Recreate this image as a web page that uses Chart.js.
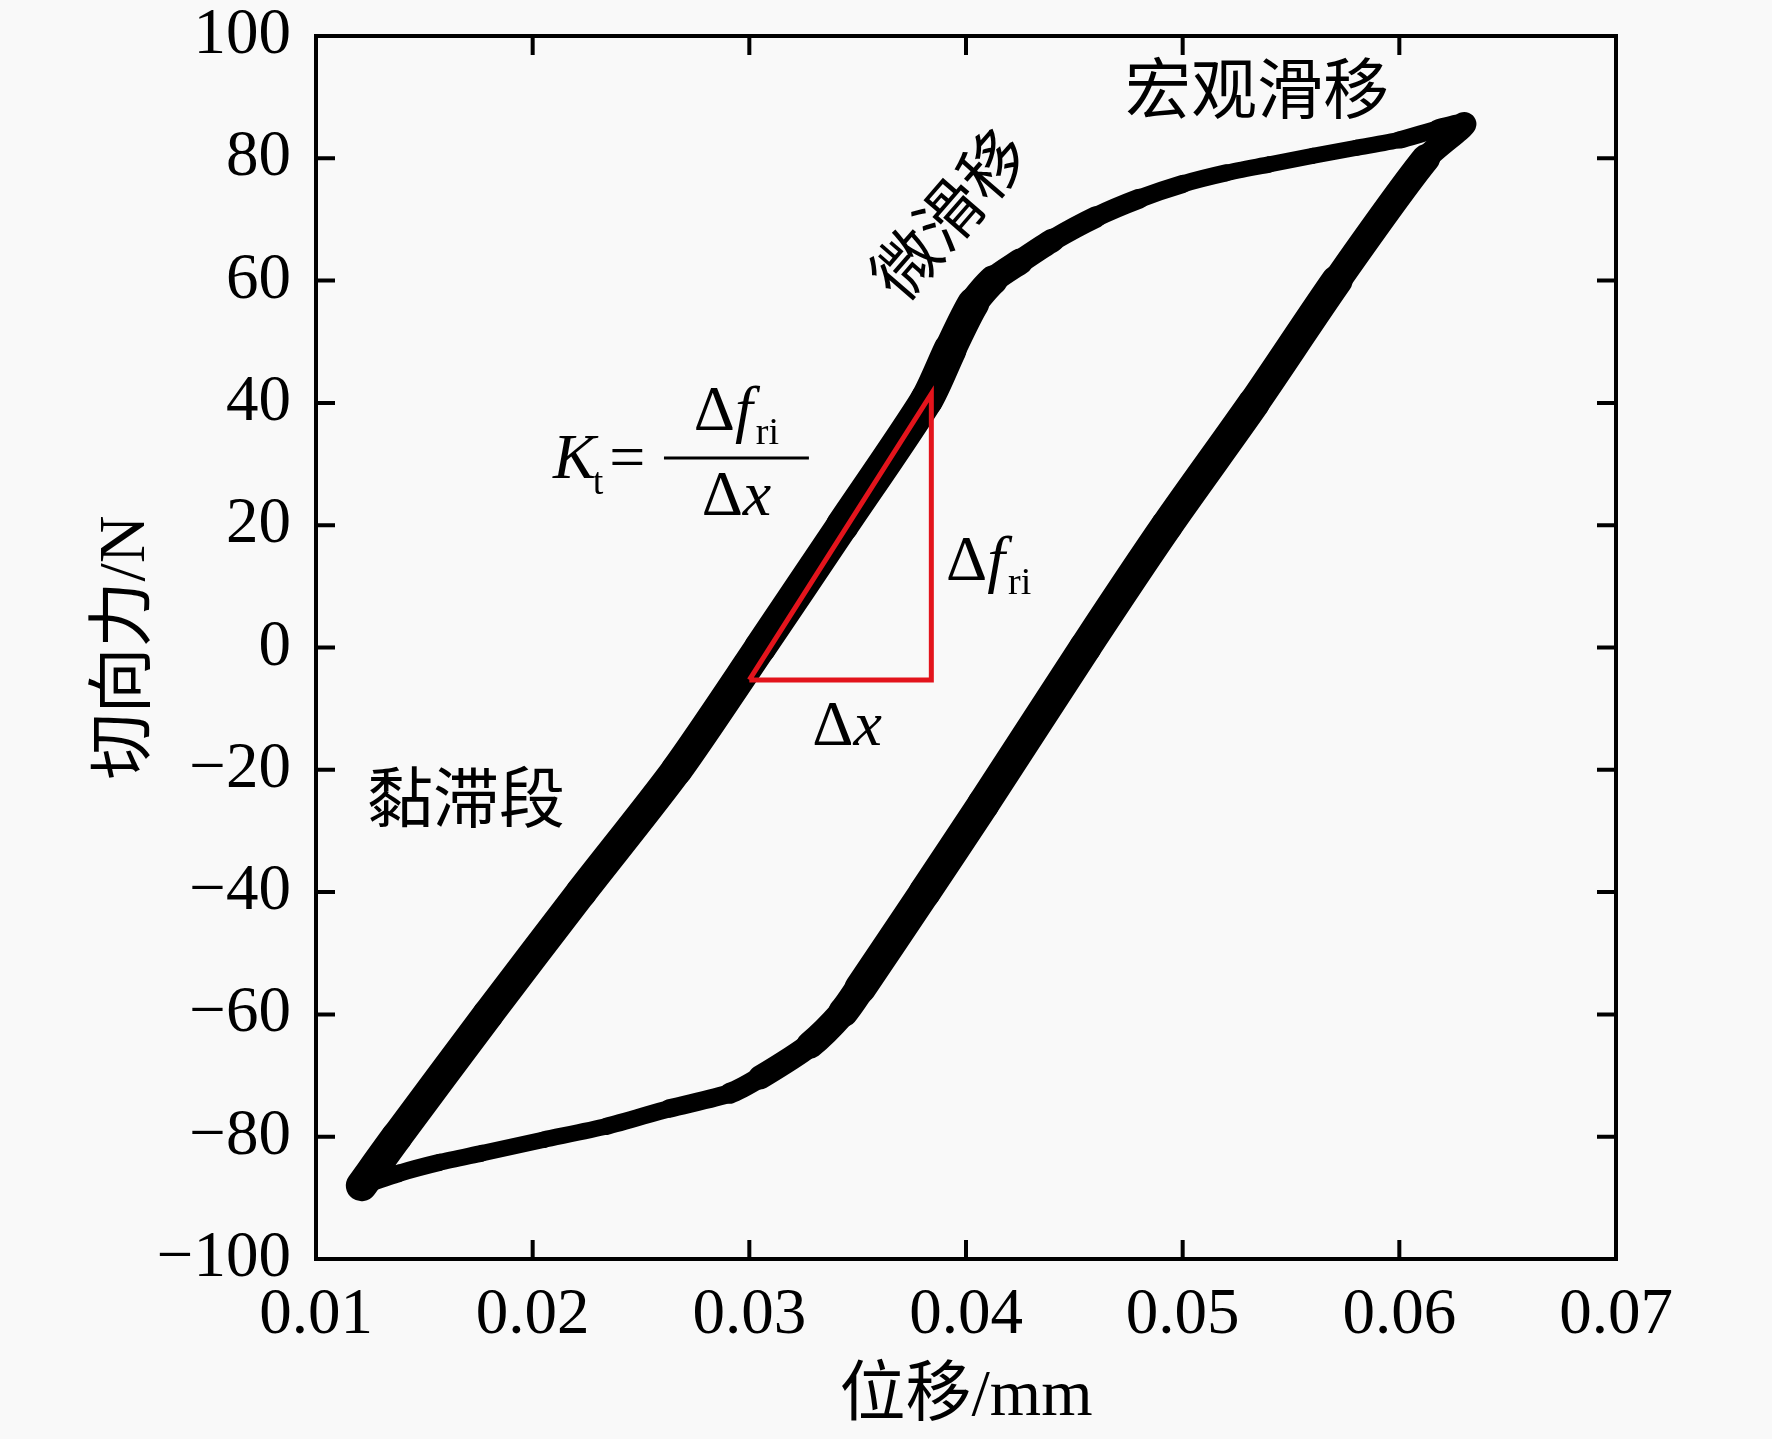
<!DOCTYPE html>
<html><head><meta charset="utf-8">
<script src="https://cdn.jsdelivr.net/npm/chart.js@4.4.1/dist/chart.umd.min.js"></script>
<style>
html,body{margin:0;padding:0;background:#f9f9f9;}
#wrap{width:1772px;height:1439px;position:relative;}
</style></head><body>
<div id="wrap"><canvas id="c" width="1772" height="1439"></canvas></div>
<script>
// ---- data ----
const xTicks = [0.01, 0.02, 0.03, 0.04, 0.05, 0.06, 0.07];
const yTicks = [-100, -80, -60, -40, -20, 0, 20, 40, 60, 80, 100];

// loading branch: bottom-left tip -> top-right tip (displacement mm, force N)
const loadX = [0.0121, 0.01373, 0.01794, 0.02225, 0.02665, 0.0305, 0.0343, 0.03818, 0.03926, 0.04034, 0.04126, 0.04249, 0.0440, 0.0460, 0.0480, 0.0500, 0.0520, 0.0540, 0.0560, 0.0580, 0.0600, 0.0618, 0.0630];
const loadF = [-88.0, -80, -60, -40, -20, 0, 20, 40.5, 48.7, 56.3, 60.1, 63.1, 66.6, 70.4, 73.4, 75.8, 77.6, 79.0, 80.4, 81.7, 83.0, 84.8, 85.6];
// unloading branch: top-right tip -> bottom-left tip
const unloadX = [0.0630, 0.06123, 0.05712, 0.05329, 0.04928, 0.0455, 0.0408, 0.0381, 0.03512, 0.03434, 0.0328, 0.0305, 0.0291, 0.0263, 0.0234, 0.0205, 0.01765, 0.0157, 0.0138, 0.0121];
const unloadF = [85.6, 80, 60, 40, 20, 0, -25.6, -40, -55.7, -59.6, -65.0, -70.3, -72.9, -75.4, -78.3, -80.5, -82.7, -84.2, -86.0, -88.0];
// stiffness triangle
const triX = [0.0300, 0.0384, 0.0384, 0.0300];
const triF = [-5.3, -5.3, 41.5, -5.3];

// ---- build ----
const loopPts = loadX.map((v, i) => ({x: v, y: loadF[i]}))
  .concat(unloadX.slice(1).map((v, i) => ({x: v, y: unloadF[i + 1]})));
const triPts = triX.map((v, i) => ({x: v, y: triF[i]}));

const SERIF = "'Liberation Serif','Times New Roman',serif";
const MIXED = "'Liberation Serif','Noto Sans CJK SC',serif";
const CJK = "'Noto Sans CJK SC',sans-serif";

const bgPlugin = {
  id: 'bg',
  beforeDraw(chart) {
    const c = chart.ctx; c.save(); c.fillStyle = '#f9f9f9';
    c.fillRect(0, 0, chart.width, chart.height); c.restore();
  }
};

const framePlugin = {
  id: 'frame',
  afterDraw(chart) {
    const {ctx, chartArea: a, scales: {x, y}} = chart;
    ctx.save();
    ctx.strokeStyle = '#000'; ctx.lineWidth = 4; ctx.lineCap = 'square';
    ctx.beginPath();
    ctx.moveTo(a.left, a.top); ctx.lineTo(a.right, a.top); ctx.lineTo(a.right, a.bottom);
    ctx.stroke();
    ctx.lineCap = 'butt';
    const L = 19;
    ctx.beginPath();
    x.ticks.forEach(t => {
      const px = x.getPixelForValue(t.value);
      ctx.moveTo(px, a.bottom); ctx.lineTo(px, a.bottom - L);
      ctx.moveTo(px, a.top); ctx.lineTo(px, a.top + L);
    });
    y.ticks.forEach(t => {
      const py = y.getPixelForValue(t.value);
      ctx.moveTo(a.left, py); ctx.lineTo(a.left + L, py);
      ctx.moveTo(a.right, py); ctx.lineTo(a.right - L, py);
    });
    ctx.stroke();
    ctx.restore();
  }
};

function drawParts(ctx, parts, x, y, align) {
  let w = 0;
  parts.forEach(p => { ctx.font = p.font; p.w = ctx.measureText(p.t).width; w += p.w + (p.dx || 0); });
  let cx = align === 'center' ? x - w / 2 : x;
  ctx.textAlign = 'left'; ctx.textBaseline = 'alphabetic';
  parts.forEach(p => { ctx.font = p.font; cx += (p.dx || 0); ctx.fillText(p.t, cx, y + (p.dy || 0)); cx += p.w; });
}

const notePlugin = {
  id: 'notes',
  afterDatasetsDraw(chart, args, opts) {
    const {ctx} = chart;
    const xs = chart.scales.x, ys = chart.scales.y;
    const P = (vx, vy) => [xs.getPixelForValue(vx), ys.getPixelForValue(vy)];
    ctx.save();
    ctx.fillStyle = '#000';
    opts.cn.forEach(l => {
      const [px, py] = P(l.x, l.y);
      ctx.save();
      ctx.translate(px, py); ctx.rotate(l.rot * Math.PI / 180);
      ctx.font = `${l.size}px ${CJK}`; ctx.textAlign = 'center'; ctx.textBaseline = 'middle';
      ctx.fillText(l.text, 0, 0);
      ctx.restore();
    });
    const f = opts.formula;
    const it = `italic 64px ${SERIF}`, rg = `64px ${SERIF}`, sb = `38px ${SERIF}`;
    const [kx, ky] = P(f.kx, f.ky);
    drawParts(ctx, [{t: 'K', font: it}, {t: 't', font: sb, dy: 16, dx: -3}, {t: '=', font: rg, dx: 6}], kx, ky);
    const [b0, by] = P(f.bar0, f.barY); const [b1] = P(f.bar1, f.barY);
    ctx.strokeStyle = '#000'; ctx.lineWidth = 3;
    ctx.beginPath(); ctx.moveTo(b0, by); ctx.lineTo(b1, by); ctx.stroke();
    const bc = (b0 + b1) / 2;
    drawParts(ctx, [{t: 'Δ', font: rg}, {t: 'f', font: it}, {t: 'ri', font: sb, dy: 14, dx: 3}], bc, ys.getPixelForValue(f.numY), 'center');
    drawParts(ctx, [{t: 'Δ', font: rg}, {t: 'x', font: it}], bc, ys.getPixelForValue(f.denY), 'center');
    const [dfx, dfy] = P(opts.df.x, opts.df.y);
    drawParts(ctx, [{t: 'Δ', font: rg}, {t: 'f', font: it}, {t: 'ri', font: sb, dy: 14, dx: 3}], dfx, dfy);
    const [dxx, dxy] = P(opts.dx.x, opts.dx.y);
    drawParts(ctx, [{t: 'Δ', font: rg}, {t: 'x', font: it}], dxx, dxy, 'center');
    ctx.restore();
  }
};

// stroke width follows the local steepness (overlapping cycles look heavier on steep parts)
const widthFn = c => {
  const pts = c.chart.getDatasetMeta(c.datasetIndex).data;
  const n = pts.length;
  const sAt = i => {
    const k = Math.min(Math.max(i, 0), n - 2);
    const a = pts[k], b = pts[k + 1];
    const dx = b.x - a.x, dy = b.y - a.y, L = Math.hypot(dx, dy);
    return L > 0 ? Math.abs(dy) / L : 0;
  };
  const i = c.p0DataIndex;
  const s = (sAt(i - 2) + 2 * sAt(i - 1) + 3 * sAt(i) + 2 * sAt(i + 1) + sAt(i + 2)) / 9;
  return 14 + 24 * Math.pow(s, 1.5);
};

new Chart(document.getElementById('c'), {
  type: 'scatter',
  data: {
    datasets: [
      {label: 'triangle', data: triPts, showLine: true, borderColor: '#e3141c', borderWidth: 5,
        pointRadius: 0, borderJoinStyle: 'miter', tension: 0, order: 0},
      {label: 'loop', data: loopPts, showLine: true, borderColor: '#000', borderWidth: 22,
        pointRadius: 0, borderCapStyle: 'round', borderJoinStyle: 'round', tension: 0.25, order: 1,
        segment: {borderWidth: widthFn}}
    ]
  },
  options: {
    responsive: false, animation: false, devicePixelRatio: 1,
    layout: {padding: {top: 36, right: 156, left: 0, bottom: 0}},
    plugins: {
      legend: {display: false}, tooltip: {enabled: false},
      notes: {
        cn: [
          {text: '宏观滑移', x: 0.05343, y: 91.5, size: 66, rot: 0},
          {text: '微滑移', x: 0.03921, y: 71.0, size: 66, rot: -49},
          {text: '黏滞段', x: 0.01692, y: -24.4, size: 66, rot: 0}
        ],
        formula: {kx: 0.02094, ky: 27.7, bar0: 0.02606, bar1: 0.03275, barY: 31.0, numY: 35.6, denY: 21.7},
        df: {x: 0.03908, y: 11.0},
        dx: {x: 0.03451, y: -15.9}
      }
    },
    scales: {
      x: {
        type: 'linear', position: 'bottom', min: 0.01, max: 0.07,
        afterBuildTicks: s => { s.ticks = xTicks.map(v => ({value: v})); },
        afterFit: s => { s.height = 180; s.paddingLeft = 0; s.paddingRight = 0; },
        grid: {display: false, drawTicks: false},
        border: {display: true, color: '#000', width: 4},
        ticks: {font: {family: SERIF, size: 65}, color: '#000', padding: 18, maxRotation: 0, autoSkip: false,
          callback: v => Number(v).toFixed(2)},
        title: {display: true, text: '位移/mm', font: {family: MIXED, size: 66}, color: '#000', padding: {top: 0, bottom: 2}}
      },
      y: {
        type: 'linear', position: 'left', min: -100, max: 100,
        afterBuildTicks: s => { s.ticks = yTicks.map(v => ({value: v})); },
        afterFit: s => { s.width = 316; s.paddingTop = 0; s.paddingBottom = 0; },
        grid: {display: false, drawTicks: false},
        border: {display: true, color: '#000', width: 4},
        ticks: {font: {family: SERIF, size: 65}, color: '#000', padding: 25, autoSkip: false,
          callback: v => v < 0 ? '\u2212' + Math.abs(v) : String(v)},
        title: {display: true, text: '切向力/N', font: {family: MIXED, size: 66}, color: '#000', padding: {top: 87, bottom: 0}}
      }
    }
  },
  plugins: [bgPlugin, notePlugin, framePlugin]
});
</script>
</body></html>
